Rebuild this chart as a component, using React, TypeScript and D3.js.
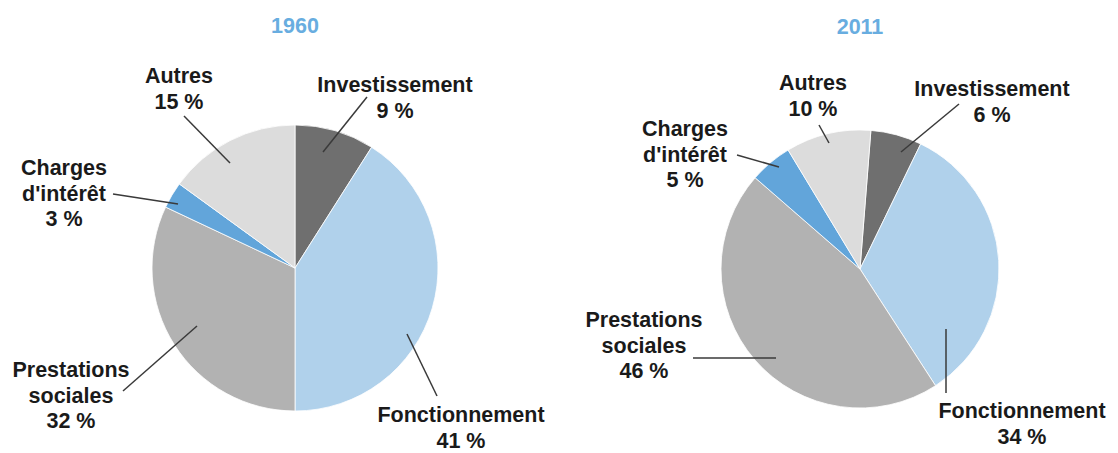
import React from 'react';
import * as d3 from 'd3';

// data
const categories = ['Investissement', 'Fonctionnement', 'Prestations sociales', "Charges d'intérêt", 'Autres'];
const years = ['1960', '2011'];
const values1960 = [9, 41, 32, 3, 15];
const values2011 = [6, 34, 46, 5, 10];
const colors = ['#6f6f6f', '#b0d1eb', '#b2b2b2', '#62a5da', '#dcdcdc'];

// label text split into lines
const labelLines = [['Investissement'], ['Fonctionnement'], ['Prestations', 'sociales'], ['Charges', "d'intérêt"], ['Autres']];

const width = 1118;
const height = 453;

// pie geometry + hand placed label layout (text x, first baseline, leader line)
const pies = [
  {
    year: years[0],
    values: values1960,
    cx: 295,
    cy: 268,
    r: 143,
    start: 0,
    titleY: 33,
    labels: [
      { x: 395, y: 92, line: [367, 97, 323, 152] },
      { x: 461, y: 422, line: [407, 334, 437, 396] },
      { x: 71, y: 377, line: [123, 391, 197, 326] },
      { x: 64, y: 175, line: [113, 194, 178, 204] },
      { x: 179, y: 83, line: [184, 116, 230, 163] },
    ],
  },
  {
    year: years[1],
    values: values2011,
    cx: 860,
    cy: 269,
    r: 139,
    start: (4.5 * Math.PI) / 180,
    titleY: 34,
    labels: [
      { x: 992, y: 96, line: [959, 104, 901, 152] },
      { x: 1022, y: 418, line: [946, 329, 946, 393] },
      { x: 644, y: 327, line: [693, 358, 776, 358] },
      { x: 685, y: 136, line: [737, 155, 779, 167] },
      { x: 813, y: 90, line: [819, 125, 829, 143] },
    ],
  },
];

const lineGap = 25.5;

const PieChart = ({ p }) => {
  const pie = d3
    .pie<number>()
    .sort(null)
    .value(d => d)
    .startAngle(p.start)
    .endAngle(p.start + 2 * Math.PI);
  const arc = d3.arc<d3.PieArcDatum<number>>().innerRadius(0).outerRadius(p.r);
  const arcs = pie(p.values);

  return (
    <g>
      <text
        x={p.cx}
        y={p.titleY}
        textAnchor="middle"
        fontSize={21.5}
        fontWeight="bold"
        fill="#68ade0"
      >
        {p.year}
      </text>
      <g transform={`translate(${p.cx},${p.cy})`}>
        {arcs.map((a, i) => (
          <path key={i} d={arc(a) || ''} fill={colors[i]} stroke="#fff" strokeWidth={0.8} />
        ))}
      </g>
      {p.labels.map((l, i) => {
        const lines = [...labelLines[i], `${p.values[i]} %`];
        return (
          <g key={i}>
            <line
              x1={l.line[0]}
              y1={l.line[1]}
              x2={l.line[2]}
              y2={l.line[3]}
              stroke="#3a3a3a"
              strokeWidth={1.5}
            />
            <text textAnchor="middle" fontSize={21.5} fontWeight="bold" fill="#1a1a1a">
              {lines.map((t, j) => (
                <tspan key={j} x={l.x} y={l.y + j * lineGap}>
                  {t}
                </tspan>
              ))}
            </text>
          </g>
        );
      })}
    </g>
  );
};

export default function App() {
  return (
    <svg
      width={width}
      height={height}
      style={{ position: 'absolute', left: 0, top: 0, background: '#fff' }}
      fontFamily="'Liberation Sans', Arial, sans-serif"
    >
      {pies.map(p => (
        <PieChart key={p.year} p={p} />
      ))}
    </svg>
  );
}
